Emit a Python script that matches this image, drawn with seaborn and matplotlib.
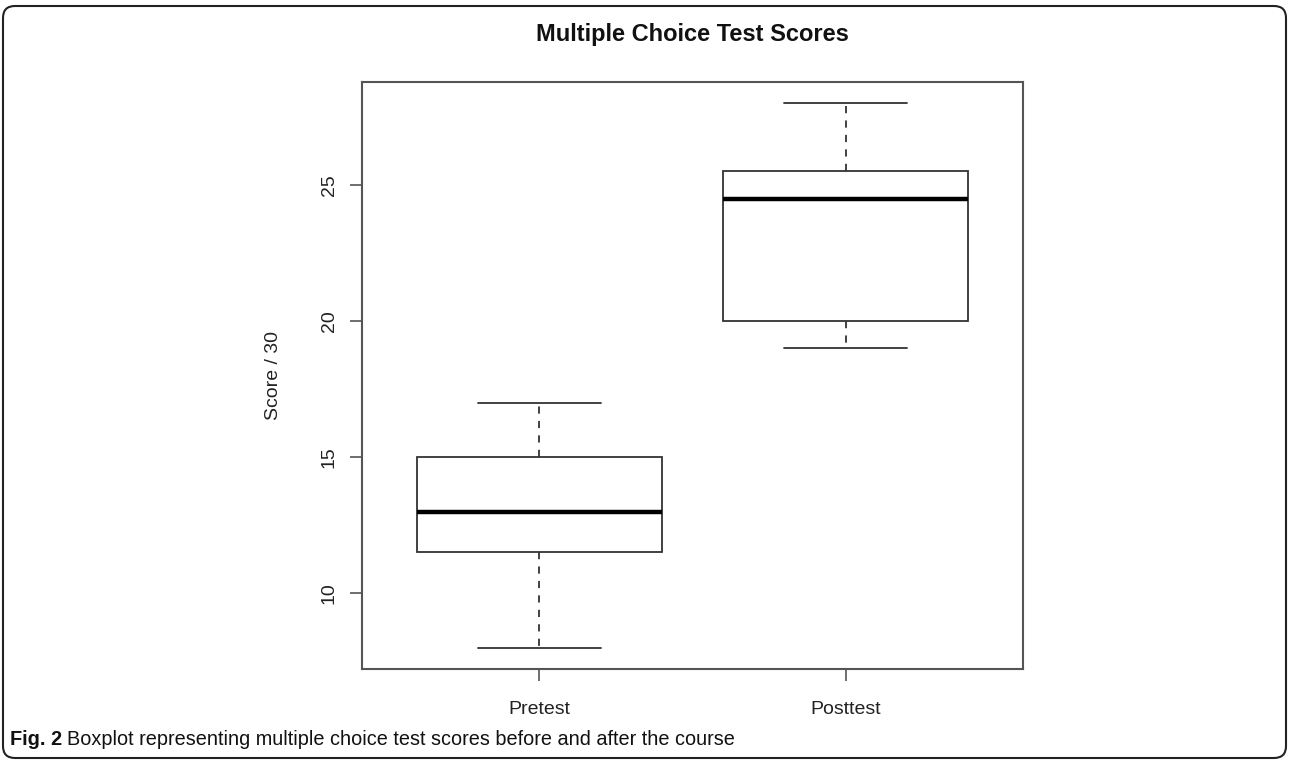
import matplotlib
matplotlib.use("Agg")
import matplotlib.pyplot as plt
from matplotlib import font_manager
from matplotlib.patches import FancyBboxPatch
import pandas as pd
import seaborn as sns

# five-number summaries (min, Q1, median, Q3, max)
groups = ["Pretest", "Posttest"]
pretest_scores = [8, 11.5, 13, 15, 17]
posttest_scores = [19, 20, 24.5, 25.5, 28]
y_ticks = [10, 15, 20, 25]

df = pd.DataFrame({
    "test": ["Pretest"] * len(pretest_scores) + ["Posttest"] * len(posttest_scores),
    "score": pretest_scores + posttest_scores,
})

sns.set_theme(style="white")
plt.rcParams["font.family"] = ["Liberation Sans", "DejaVu Sans"]

names = {f.name for f in font_manager.fontManager.ttflist}
cap_font = "Liberation Sans Narrow" if "Liberation Sans Narrow" in names else "Liberation Sans"
cap_size = 16 if cap_font == "Liberation Sans Narrow" else 14.3

fig = plt.figure(figsize=(12.9, 7.61), dpi=100)
ax = fig.add_axes([362 / 1290, 1 - 669.3 / 761, (1023 - 362) / 1290, (669.3 - 81.7) / 761])

line_col = "#333333"
sns.boxplot(data=df, x="test", y="score", order=groups, ax=ax,
            width=0.8, whis=(0, 100), color="white", linecolor=line_col,
            linewidth=1.3,
            medianprops=dict(linewidth=3.2, color="black"),
            whiskerprops=dict(linestyle=(0, (4, 4))))

ax.set_xlim(-0.58, 1.58)
ax.set_ylim(7.2, 28.8)
ax.set_yticks(y_ticks)
ax.set_xlabel("")
ax.set_ylabel("Score / 30", fontsize=14, labelpad=28, color="#222222")
ax.tick_params(axis="both", bottom=True, left=True, direction="out",
               length=8.6, width=1.2, color="#555555", labelsize=14,
               labelcolor="#222222")
ax.tick_params(axis="x", pad=14)
ax.tick_params(axis="y", pad=9, labelrotation=90)
for lab in ax.get_yticklabels():
    lab.set_va("center")
for sp in ax.spines.values():
    sp.set_visible(True)
    sp.set_color("#555555")
    sp.set_linewidth(1.5)

fig.text(692.5 / 1290, 1 - 34 / 761, "Multiple Choice Test Scores",
         ha="center", va="center", fontsize=17, fontweight="bold", color="#111111")

# caption: bold "Fig. 2" followed by regular text
fig.canvas.draw()
r = fig.canvas.get_renderer()
t1 = fig.text(10 / 1290, 1 - 745 / 761, "Fig. 2", fontsize=cap_size, fontweight="bold",
              family=cap_font, ha="left", va="baseline", color="#111111")
bb = t1.get_window_extent(renderer=r)
fig.text((bb.x1 + 5) / 1290, 1 - 745 / 761,
         "Boxplot representing multiple choice test scores before and after the course",
         fontsize=cap_size, family=cap_font, ha="left", va="baseline", color="#111111")

# rounded frame around the whole figure
border = FancyBboxPatch((3, 3), 1283, 752, boxstyle="round,pad=0,rounding_size=12",
                        transform=None, fill=False, edgecolor="#222222", linewidth=1.5)
fig.patches.append(border)

fig.savefig("out.png", dpi=100)
